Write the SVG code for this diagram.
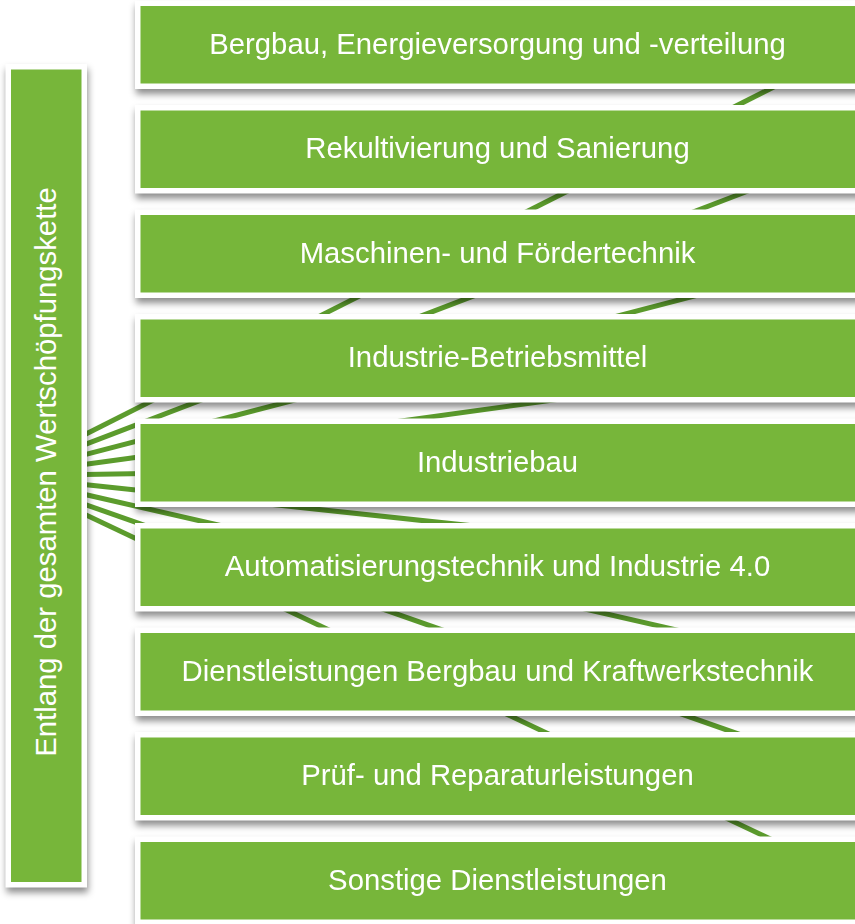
<svg xmlns="http://www.w3.org/2000/svg" width="855" height="924" viewBox="0 0 855 924">
  <defs>
    <filter id="blur" x="-10%" y="-20%" width="120%" height="160%">
      <feGaussianBlur stdDeviation="3.5"/>
    </filter>
    <style>
      .line { stroke: #5c9c2d; stroke-width: 5; fill: none; }
      .shadow { fill: #000; opacity: 0.45; }
      .border { fill: #ffffff; }
      .fill { fill: #77b63a; }
      .label { font-family: "Liberation Sans", Arial, sans-serif; font-size: 29.3px; fill: #ffffff; text-anchor: middle; }
    </style>
  </defs>
  <rect width="855" height="924" fill="#ffffff"/>

  <g id="connectors">
    <line class="line" x1="84" y1="435" x2="858" y2="44.5"/>
    <line class="line" x1="84" y1="444.9" x2="858" y2="149"/>
    <line class="line" x1="84" y1="454.8" x2="858" y2="253.5"/>
    <line class="line" x1="84" y1="464.6" x2="858" y2="358"/>
    <line class="line" x1="84" y1="474.5" x2="858" y2="462.5"/>
    <line class="line" x1="84" y1="484.4" x2="858" y2="567"/>
    <line class="line" x1="84" y1="494.3" x2="858" y2="671.5"/>
    <line class="line" x1="84" y1="504.1" x2="858" y2="776"/>
    <line class="line" x1="84" y1="514" x2="858" y2="880.5"/>
  </g>

  <g id="shadows" filter="url(#blur)">
    <rect class="shadow" x="6.5" y="69" width="81.5" height="823.5"/>
    <rect class="shadow" x="136" y="5.5" width="730" height="88.5"/>
    <rect class="shadow" x="136" y="110" width="730" height="88.5"/>
    <rect class="shadow" x="136" y="214.5" width="730" height="88.5"/>
    <rect class="shadow" x="136" y="319" width="730" height="88.5"/>
    <rect class="shadow" x="136" y="423.5" width="730" height="88.5"/>
    <rect class="shadow" x="136" y="528" width="730" height="88.5"/>
    <rect class="shadow" x="136" y="632.5" width="730" height="88.5"/>
    <rect class="shadow" x="136" y="737" width="730" height="88.5"/>
    <rect class="shadow" x="136" y="841.5" width="730" height="88.5"/>
  </g>

  <g id="node-left">
    <rect class="border" x="5.5" y="64" width="81.5" height="823.5"/>
    <rect class="fill" x="11" y="69.5" width="70.5" height="812.5"/>
    <text class="label" transform="translate(55.5,472) rotate(-90)" x="0" y="0">Entlang der gesamten Wertschöpfungskette</text>
  </g>

  <g id="node-1">
    <rect class="border" x="135" y="0.5" width="730" height="88.5"/>
    <rect class="fill" x="140.5" y="6" width="730" height="77.5"/>
    <text class="label" x="497.5" y="53.5">Bergbau, Energieversorgung und -verteilung</text>
  </g>
  <g id="node-2">
    <rect class="border" x="135" y="105" width="730" height="88.5"/>
    <rect class="fill" x="140.5" y="110.5" width="730" height="77.5"/>
    <text class="label" x="497.5" y="158">Rekultivierung und Sanierung</text>
  </g>
  <g id="node-3">
    <rect class="border" x="135" y="209.5" width="730" height="88.5"/>
    <rect class="fill" x="140.5" y="215" width="730" height="77.5"/>
    <text class="label" x="497.5" y="262.5">Maschinen- und Fördertechnik</text>
  </g>
  <g id="node-4">
    <rect class="border" x="135" y="314" width="730" height="88.5"/>
    <rect class="fill" x="140.5" y="319.5" width="730" height="77.5"/>
    <text class="label" x="497.5" y="367">Industrie-Betriebsmittel</text>
  </g>
  <g id="node-5">
    <rect class="border" x="135" y="418.5" width="730" height="88.5"/>
    <rect class="fill" x="140.5" y="424" width="730" height="77.5"/>
    <text class="label" x="497.5" y="471.5">Industriebau</text>
  </g>
  <g id="node-6">
    <rect class="border" x="135" y="523" width="730" height="88.5"/>
    <rect class="fill" x="140.5" y="528.5" width="730" height="77.5"/>
    <text class="label" x="497.5" y="576">Automatisierungstechnik und Industrie 4.0</text>
  </g>
  <g id="node-7">
    <rect class="border" x="135" y="627.5" width="730" height="88.5"/>
    <rect class="fill" x="140.5" y="633" width="730" height="77.5"/>
    <text class="label" x="497.5" y="680.5">Dienstleistungen Bergbau und Kraftwerkstechnik</text>
  </g>
  <g id="node-8">
    <rect class="border" x="135" y="732" width="730" height="88.5"/>
    <rect class="fill" x="140.5" y="737.5" width="730" height="77.5"/>
    <text class="label" x="497.5" y="785">Prüf- und Reparaturleistungen</text>
  </g>
  <g id="node-9">
    <rect class="border" x="135" y="836.5" width="730" height="88.5"/>
    <rect class="fill" x="140.5" y="842" width="730" height="77.5"/>
    <text class="label" x="497.5" y="889.5">Sonstige Dienstleistungen</text>
  </g>
</svg>
